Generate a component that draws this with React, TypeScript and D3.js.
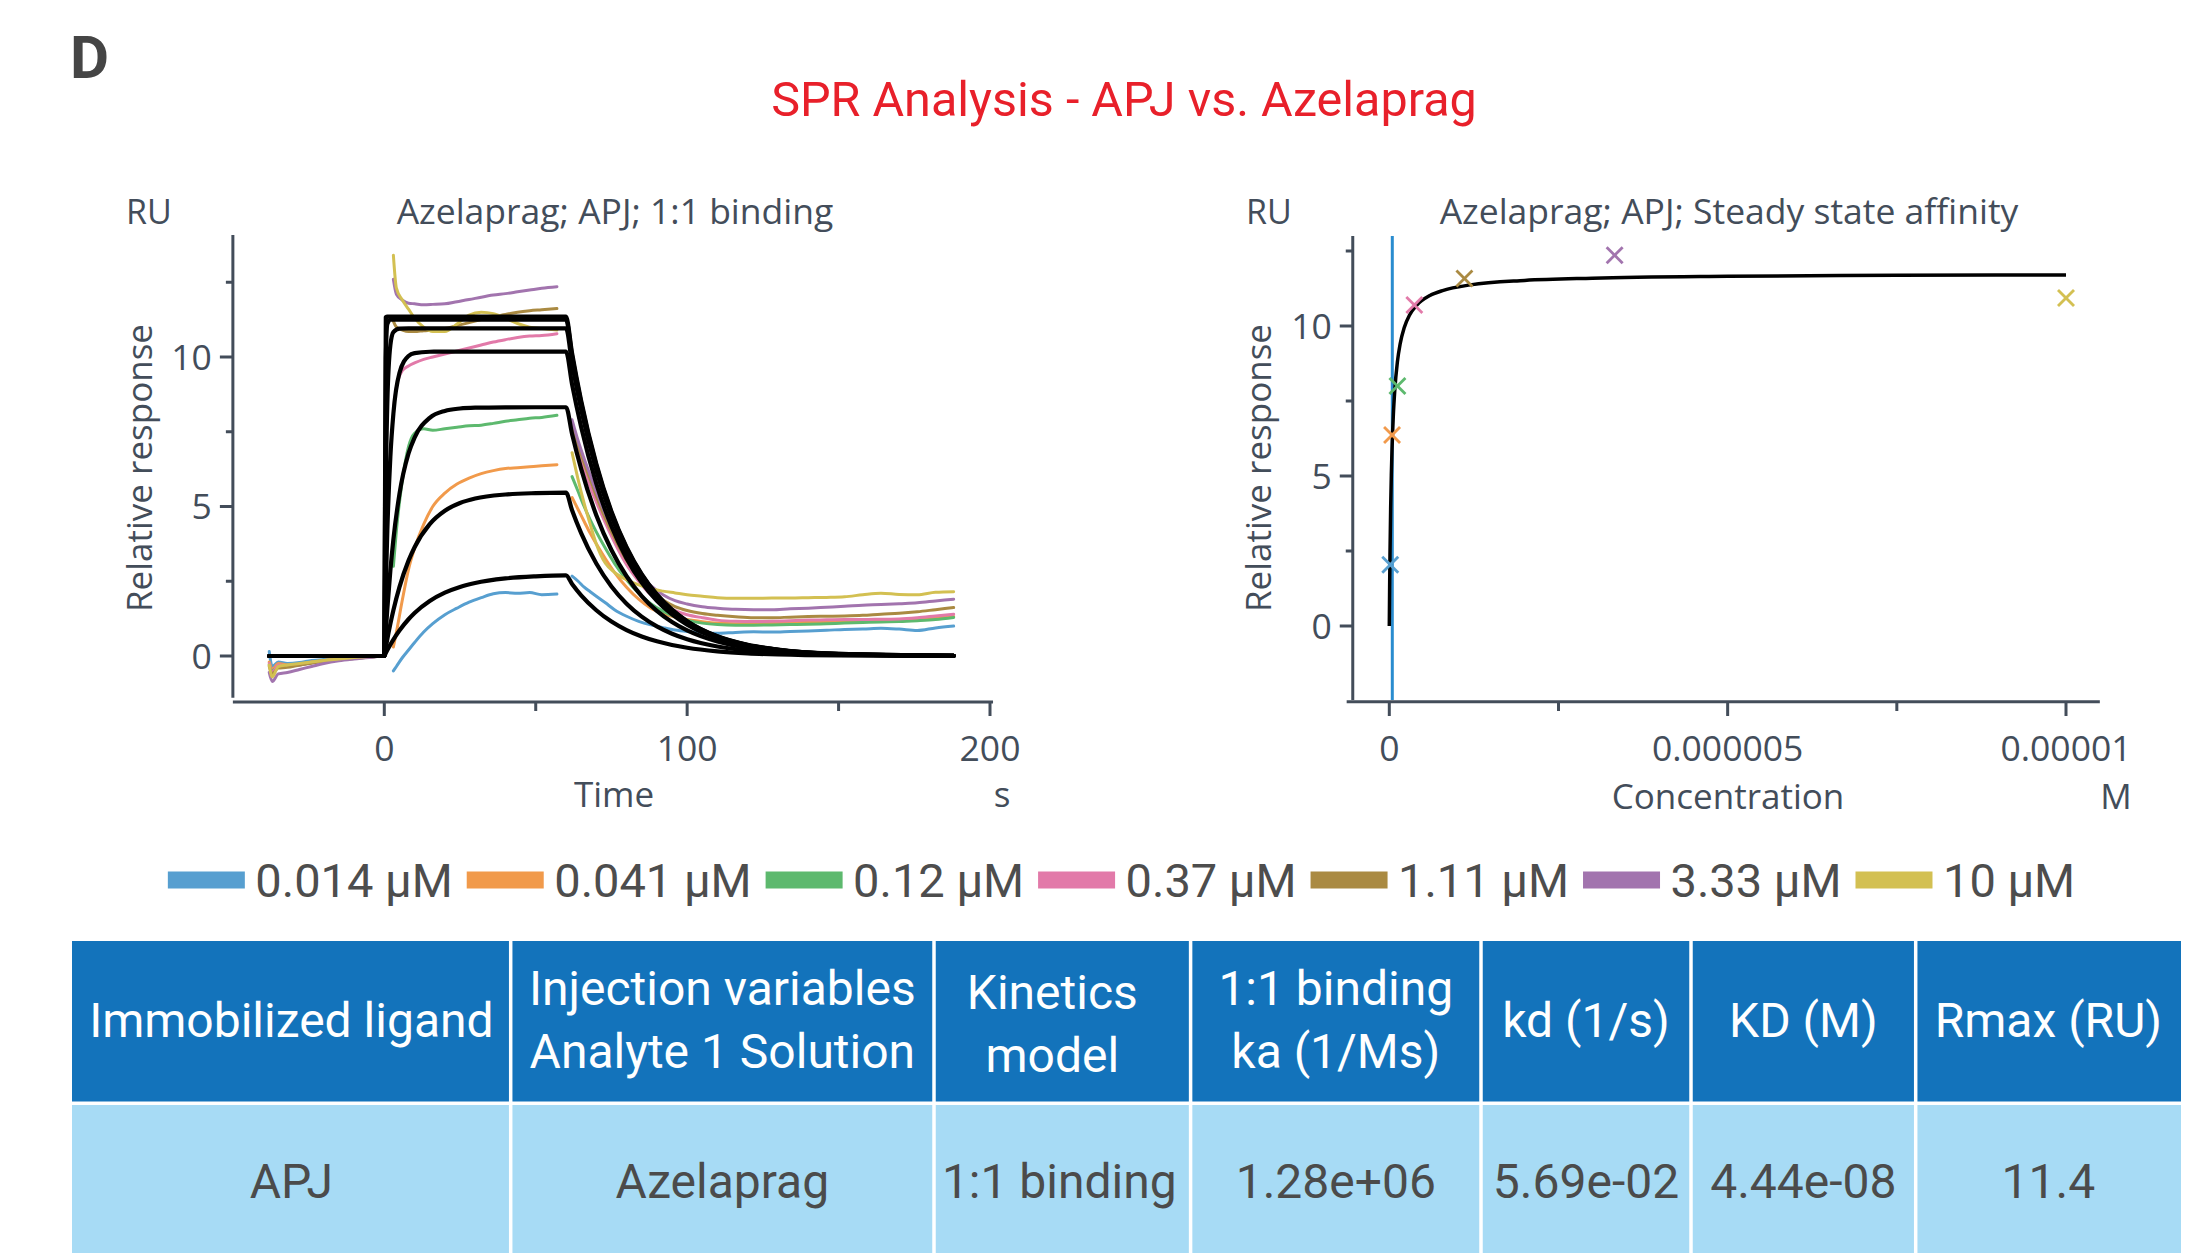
import React from 'react';
import * as d3 from 'd3';

// ---------------- data ----------------
const concLabels = ['0.014 µM', '0.041 µM', '0.12 µM', '0.37 µM', '1.11 µM', '3.33 µM', '10 µM'];
const concMolar = [1.4e-8, 4.1e-8, 1.2e-7, 3.7e-7, 1.11e-6, 3.33e-6, 1e-5];
const seriesColors = ['#579fd0', '#f19a4b', '#5db96e', '#e27aa9', '#aa8a42', '#a274ae', '#d3c052'];

// sensorgram (measured) — baseline phase
const baseT = [-38, -37, -35, -32, -28, -24, -20, -15, -10, -5, -1];
const base_0014 = [0.15, -0.35, -0.2, -0.25, -0.22, -0.15, -0.12, -0.1, -0.06, -0.03, 0];
const base_0041 = [-0.2, -0.45, -0.25, -0.3, -0.28, -0.2, -0.15, -0.1, -0.07, -0.03, 0];
const base_012 = [-0.3, -0.5, -0.35, -0.35, -0.3, -0.22, -0.16, -0.12, -0.08, -0.04, 0];
const base_037 = [-0.25, -0.55, -0.3, -0.32, -0.3, -0.22, -0.17, -0.12, -0.07, -0.03, 0];
const base_111 = [-0.35, -0.6, -0.4, -0.38, -0.3, -0.24, -0.18, -0.12, -0.08, -0.04, 0];
const base_333 = [-0.55, -0.85, -0.6, -0.55, -0.45, -0.35, -0.25, -0.16, -0.1, -0.05, 0];
const base_10 = [-0.3, -0.7, -0.35, -0.3, -0.25, -0.2, -0.15, -0.1, -0.05, -0.02, 0.02];

// association phase
const assocT = [3, 4, 6, 8, 10, 13, 16, 20, 24, 28, 32, 36, 40, 44, 48, 52, 57];
const assoc_0014 = [-0.5, -0.35, -0.05, 0.2, 0.45, 0.8, 1.08, 1.38, 1.6, 1.8, 1.95, 2.08, 2.12, 2.1, 2.12, 2.05, 2.07];
const assoc_0041 = [0.3, 0.8, 1.9, 2.9, 3.6, 4.4, 5.0, 5.45, 5.75, 5.95, 6.1, 6.2, 6.27, 6.3, 6.33, 6.36, 6.4];
const assoc_012 = [3.0, 4.2, 5.9, 7.0, 7.45, 7.6, 7.55, 7.6, 7.65, 7.7, 7.72, 7.78, 7.85, 7.9, 7.95, 7.98, 8.05];
const assoc_037 = [8.2, 9.0, 9.55, 9.7, 9.8, 9.92, 10.0, 10.1, 10.2, 10.3, 10.4, 10.5, 10.58, 10.65, 10.7, 10.72, 10.78];
const assoc_111 = [11.2, 11.0, 10.9, 10.85, 10.85, 10.88, 10.9, 10.95, 11.05, 11.15, 11.25, 11.35, 11.42, 11.5, 11.55, 11.58, 11.62];
const assoc_333 = [12.6, 12.1, 11.9, 11.8, 11.78, 11.75, 11.76, 11.78, 11.85, 11.92, 12.0, 12.07, 12.12, 12.18, 12.24, 12.3, 12.35];
const assoc_10 = [13.4, 12.3, 11.9, 11.6, 11.3, 11.0, 10.85, 10.85, 11.1, 11.4, 11.5, 11.45, 11.3, 11.12, 11.0, 10.95, 10.9];

// dissociation phase
const dissocT = [62, 64, 66, 68, 70, 73, 76, 80, 84, 88, 92, 96, 100, 105, 110, 116, 122, 128, 134, 140, 146, 152, 158, 164, 170, 176, 182, 188];
const dissoc_0014 = [2.67, 2.5, 2.3, 2.15, 2.0, 1.78, 1.55, 1.33, 1.16, 1.04, 0.95, 0.87, 0.82, 0.78, 0.76, 0.79, 0.81, 0.8, 0.82, 0.84, 0.86, 0.89, 0.9, 0.93, 0.9, 0.85, 0.94, 1.0];
const dissoc_0041 = [5.3, 4.9, 4.5, 4.1, 3.75, 3.25, 2.8, 2.3, 1.9, 1.6, 1.42, 1.3, 1.22, 1.15, 1.1, 1.08, 1.09, 1.1, 1.12, 1.13, 1.15, 1.16, 1.18, 1.2, 1.2, 1.22, 1.27, 1.32];
const dissoc_012 = [6.0, 5.5, 5.0, 4.55, 4.15, 3.6, 3.1, 2.55, 2.1, 1.75, 1.5, 1.32, 1.2, 1.1, 1.05, 1.03, 1.03, 1.04, 1.05, 1.06, 1.08, 1.1, 1.12, 1.14, 1.15, 1.18, 1.22, 1.29];
const dissoc_037 = [7.4, 6.8, 6.2, 5.65, 5.15, 4.45, 3.8, 3.05, 2.5, 2.05, 1.75, 1.52, 1.38, 1.28, 1.2, 1.16, 1.15, 1.16, 1.18, 1.2, 1.21, 1.22, 1.22, 1.23, 1.24, 1.28, 1.34, 1.4];
const dissoc_111 = [7.7, 7.05, 6.45, 5.9, 5.35, 4.6, 3.95, 3.2, 2.62, 2.18, 1.87, 1.65, 1.52, 1.42, 1.36, 1.31, 1.28, 1.28, 1.3, 1.32, 1.33, 1.34, 1.36, 1.4, 1.43, 1.48, 1.55, 1.62];
const dissoc_333 = [7.9, 7.2, 6.6, 6.05, 5.5, 4.75, 4.1, 3.35, 2.78, 2.35, 2.05, 1.85, 1.74, 1.65, 1.6, 1.56, 1.55, 1.55, 1.58, 1.6, 1.63, 1.66, 1.7, 1.72, 1.75, 1.78, 1.84, 1.9];
const dissoc_10 = [6.8, 5.9, 5.1, 4.4, 3.75, 3.1, 2.8, 2.55, 2.38, 2.25, 2.17, 2.11, 2.05, 2.0, 1.95, 1.93, 1.93, 1.94, 1.94, 1.95, 1.96, 1.98, 2.05, 2.1, 2.06, 2.05, 2.13, 2.15];

// 1:1 binding fitted curves (black)
const fitT = [-38, 0, 0.5, 1, 2, 3, 5, 8, 10, 15, 20, 25, 30, 40, 50, 60, 62, 65, 70, 75, 80, 85, 90, 95, 100, 110, 120, 130, 150, 188];
const fit_0014 = [0, 0, 0.10, 0.197, 0.379, 0.549, 0.852, 1.229, 1.439, 1.84, 2.119, 2.31, 2.441, 2.594, 2.665, 2.699, 2.41, 2.03, 1.53, 1.15, 0.865, 0.651, 0.49, 0.369, 0.277, 0.157, 0.089, 0.05, 0.016, 0.002];
const fit_0041 = [0, 0, 0.291, 0.567, 1.075, 1.531, 2.305, 3.19, 3.639, 4.41, 4.857, 5.115, 5.265, 5.401, 5.447, 5.462, 4.873, 4.108, 3.091, 2.326, 1.75, 1.316, 0.99, 0.745, 0.561, 0.317, 0.18, 0.102, 0.033, 0.004];
const fit_012 = [0, 0, 0.831, 1.58, 2.859, 3.895, 5.416, 6.776, 7.307, 7.966, 8.197, 8.277, 8.305, 8.318, 8.32, 8.32, 7.425, 6.26, 4.71, 3.544, 2.667, 2.006, 1.509, 1.136, 0.854, 0.483, 0.274, 0.155, 0.05, 0.006];
const fit_037 = [0, 0, 2.371, 4.191, 6.657, 8.107, 9.463, 10.034, 10.13, 10.176, 10.18, 10.18, 10.18, 10.18, 10.18, 10.18, 9.085, 7.659, 5.763, 4.337, 3.263, 2.454, 1.847, 1.39, 1.046, 0.591, 0.335, 0.189, 0.061, 0.007];
const fit_111 = [0, 0, 5.725, 8.459, 10.39, 10.83, 10.95, 10.96, 10.96, 10.96, 10.96, 10.96, 10.96, 10.96, 10.96, 10.96, 9.781, 8.246, 6.204, 4.669, 3.513, 2.642, 1.988, 1.496, 1.126, 0.637, 0.361, 0.204, 0.066, 0.008];
const fit_333 = [0, 0, 9.953, 11.1, 11.248, 11.25, 11.25, 11.25, 11.25, 11.25, 11.25, 11.25, 11.25, 11.25, 11.25, 11.25, 10.04, 8.465, 6.369, 4.793, 3.606, 2.712, 2.041, 1.536, 1.155, 0.654, 0.37, 0.209, 0.068, 0.008];
const fit_10 = [0, 0, 11.33, 11.35, 11.35, 11.35, 11.35, 11.35, 11.35, 11.35, 11.35, 11.35, 11.35, 11.35, 11.35, 11.35, 10.13, 8.54, 6.425, 4.835, 3.638, 2.736, 2.059, 1.549, 1.166, 0.659, 0.373, 0.211, 0.068, 0.008];

// steady state affinity
const ssResponse = [2.04, 6.37, 8.0, 10.7, 11.58, 12.36, 10.93];
const ssFitConc = [0, 5e-9, 1e-8, 2e-8, 3e-8, 4e-8, 6e-8, 8e-8, 1.2e-7, 1.6e-7, 2.2e-7, 3e-7, 4e-7, 6e-7, 8e-7, 1.2e-6, 2e-6, 3e-6, 5e-6, 7.5e-6, 1e-5];
const ssFitResp = [0, 1.306, 2.35, 3.917, 5.036, 5.875, 7.05, 7.833, 8.813, 9.4, 9.942, 10.368, 10.682, 11.016, 11.19, 11.371, 11.52, 11.595, 11.657, 11.688, 11.703];
const kdMarker = 4.44e-8;

// axes ticks
const yMajorTicks = [0, 5, 10];
const yMinorTicks = [2.5, 7.5, 12.5];
const xMajorTicksL = [0, 100, 200];
const xMinorTicksL = [50, 150];
const xMajorTicksR = [0, 5e-6, 1e-5];
const xMajorLabelsR = ['0', '0.000005', '0.00001'];
const xMinorTicksR = [2.5e-6, 7.5e-6];

// table
const tableHeaders = [
  ['Immobilized ligand'],
  ['Injection variables', 'Analyte 1 Solution'],
  ['Kinetics', 'model'],
  ['1:1 binding', 'ka (1/Ms)'],
  ['kd (1/s)'],
  ['KD (M)'],
  ['Rmax (RU)'],
];
const tableRow = ['APJ', 'Azelaprag', '1:1 binding', '1.28e+06', '5.69e-02', '4.44e-08', '11.4'];

// ---------------- helpers ----------------
const baseArrs = [base_0014, base_0041, base_012, base_037, base_111, base_333, base_10];
const assocArrs = [assoc_0014, assoc_0041, assoc_012, assoc_037, assoc_111, assoc_333, assoc_10];
const dissocArrs = [dissoc_0014, dissoc_0041, dissoc_012, dissoc_037, dissoc_111, dissoc_333, dissoc_10];
const fitArrs = [fit_0014, fit_0041, fit_012, fit_037, fit_111, fit_333, fit_10];

const zip = (xs: number[], ys: number[]): [number, number][] =>
  xs.slice(0, Math.min(xs.length, ys.length)).map((x, i) => [x, ys[i]]);

function measure(text: string, font: string): number {
  const c = document.createElement('canvas').getContext('2d');
  if (!c) return text.length * 20;
  c.font = font;
  return c.measureText(text).width;
}

const AX = '#434d5a';
const CHART_FONT = '"Open Sans", "DejaVu Sans", sans-serif';
const UI_FONT = 'Roboto, "Open Sans", sans-serif';

export default function App() {
  const W = 2212;
  const H = 1253;

  // left kinetics chart
  const xL = d3.scaleLinear().domain([0, 200]).range([384.3, 990]);
  const yL = d3.scaleLinear().domain([0, 10]).range([656, 357]);
  const lineL = d3
    .line<[number, number]>()
    .x((d) => xL(d[0]))
    .y((d) => yL(d[1]))
    .curve(d3.curveMonotoneX);

  // right steady-state chart
  const xR = d3.scaleLinear().domain([0, 1e-5]).range([1389.3, 2066]);
  const yR = d3.scaleLinear().domain([0, 10]).range([626, 326]);
  const lineR = d3
    .line<[number, number]>()
    .x((d) => xR(d[0]))
    .y((d) => yR(d[1]))
    .curve(d3.curveMonotoneX);

  const tickFont = 35.5;
  const labelFont = 35;
  const titleFont = 35.5;

  // legend layout
  const legendFont = `47px ${UI_FONT}`;
  const swW = 77;
  const swH = 17;
  const gapSwText = 10.5;
  const gapItem = 14;
  const widths = concLabels.map((l) => measure(l, legendFont));
  const totalW = widths.reduce((a, w) => a + swW + gapSwText + w + gapItem, 0) - gapItem;
  let lx = 1121.5 - totalW / 2;
  const legendItems = concLabels.map((l, i) => {
    const item = { x: lx, label: l, color: seriesColors[i], w: widths[i] };
    lx += swW + gapSwText + widths[i] + gapItem;
    return item;
  });

  // table layout
  const colEdges = [72, 510.7, 934, 1190.6, 1481, 1691, 1915.7, 2181];
  const headTop = 941;
  const headBot = 1101.5;
  const rowTop = 1105;
  const rowBot = 1275;
  const sep = 3.5;

  const renderAxesL = () => (
    <g>
      <line x1={xL(-50)} x2={xL(-50)} y1={yL(14.08)} y2={yL(-1.4)} stroke={AX} strokeWidth={3} />
      <line x1={xL(-50)} x2={xL(201)} y1={702} y2={702} stroke={AX} strokeWidth={3} />
      {yMajorTicks.map((v) => (
        <g key={'ylm' + v}>
          <line x1={xL(-50) - 13} x2={xL(-50)} y1={yL(v)} y2={yL(v)} stroke={AX} strokeWidth={3} />
          <text x={xL(-50) - 21} y={yL(v)} dy="0.36em" textAnchor="end" fontSize={tickFont} fill={AX} fontFamily={CHART_FONT}>
            {v}
          </text>
        </g>
      ))}
      {yMinorTicks.map((v) => (
        <line key={'ylmi' + v} x1={xL(-50) - 7} x2={xL(-50)} y1={yL(v)} y2={yL(v)} stroke={AX} strokeWidth={3} />
      ))}
      {xMajorTicksL.map((v) => (
        <g key={'xlm' + v}>
          <line x1={xL(v)} x2={xL(v)} y1={702} y2={716} stroke={AX} strokeWidth={3} />
          <text x={xL(v)} y={761} textAnchor="middle" fontSize={tickFont} fill={AX} fontFamily={CHART_FONT}>
            {v}
          </text>
        </g>
      ))}
      {xMinorTicksL.map((v) => (
        <line key={'xlmi' + v} x1={xL(v)} x2={xL(v)} y1={702} y2={711} stroke={AX} strokeWidth={3} />
      ))}
      <text x={126} y={224} fontSize={34} fill={AX} fontFamily={CHART_FONT}>RU</text>
      <text x={615} y={224} textAnchor="middle" fontSize={titleFont} fill={AX} fontFamily={CHART_FONT}>
        Azelaprag; APJ; 1:1 binding
      </text>
      <text transform="translate(152,468) rotate(-90)" textAnchor="middle" fontSize={labelFont} fill={AX} fontFamily={CHART_FONT}>
        Relative response
      </text>
      <text x={614} y={807} textAnchor="middle" fontSize={labelFont} fill={AX} fontFamily={CHART_FONT}>Time</text>
      <text x={1002} y={807} textAnchor="middle" fontSize={labelFont} fill={AX} fontFamily={CHART_FONT}>s</text>
    </g>
  );

  const renderAxesR = () => (
    <g>
      <line x1={xR(-5.4e-7)} x2={xR(-5.4e-7)} y1={yR(13.0)} y2={yR(-2.47)} stroke={AX} strokeWidth={3} />
      <line x1={xR(-6.3e-7)} x2={xR(1.05e-5)} y1={701.7} y2={701.7} stroke={AX} strokeWidth={3} />
      {yMajorTicks.map((v) => (
        <g key={'yrm' + v}>
          <line x1={xR(-5.4e-7) - 13} x2={xR(-5.4e-7)} y1={yR(v)} y2={yR(v)} stroke={AX} strokeWidth={3} />
          <text x={xR(-5.4e-7) - 21} y={yR(v)} dy="0.36em" textAnchor="end" fontSize={tickFont} fill={AX} fontFamily={CHART_FONT}>
            {v}
          </text>
        </g>
      ))}
      {yMinorTicks.map((v) => (
        <line key={'yrmi' + v} x1={xR(-5.4e-7) - 7} x2={xR(-5.4e-7)} y1={yR(v)} y2={yR(v)} stroke={AX} strokeWidth={3} />
      ))}
      {xMajorTicksR.map((v, i) => (
        <g key={'xrm' + i}>
          <line x1={xR(v)} x2={xR(v)} y1={701.7} y2={716} stroke={AX} strokeWidth={3} />
          <text x={xR(v)} y={761} textAnchor="middle" fontSize={tickFont} fill={AX} fontFamily={CHART_FONT}>
            {xMajorLabelsR[i]}
          </text>
        </g>
      ))}
      {xMinorTicksR.map((v, i) => (
        <line key={'xrmi' + i} x1={xR(v)} x2={xR(v)} y1={701.7} y2={711} stroke={AX} strokeWidth={3} />
      ))}
      <text x={1246} y={224} fontSize={34} fill={AX} fontFamily={CHART_FONT}>RU</text>
      <text x={1729} y={224} textAnchor="middle" fontSize={titleFont} fill={AX} fontFamily={CHART_FONT}>
        Azelaprag; APJ; Steady state affinity
      </text>
      <text transform="translate(1271,468) rotate(-90)" textAnchor="middle" fontSize={labelFont} fill={AX} fontFamily={CHART_FONT}>
        Relative response
      </text>
      <text x={1728} y={809} textAnchor="middle" fontSize={labelFont} fill={AX} fontFamily={CHART_FONT}>Concentration</text>
      <text x={2116} y={809} textAnchor="middle" fontSize={labelFont} fill={AX} fontFamily={CHART_FONT}>M</text>
    </g>
  );

  return (
    <svg
      width={W}
      height={H}
      viewBox={`0 0 ${W} ${H}`}
      style={{ position: 'absolute', left: 0, top: 0, background: '#ffffff', display: 'block' }}
    >
      <rect x={0} y={0} width={W} height={H} fill="#ffffff" />
      {/* panel letter & title */}
      <text x={70} y={78} fontSize={60} fontWeight={700} fill="#454545" fontFamily={UI_FONT}>D</text>
      <text x={1124} y={116} textAnchor="middle" fontSize={48.5} fill="#e8202a" fontFamily={UI_FONT}>
        SPR Analysis - APJ vs. Azelaprag
      </text>

      {/* left chart */}
      {renderAxesL()}
      <g fill="none" strokeLinejoin="round" strokeLinecap="round">
        {seriesColors.map((c, i) => (
          <g key={'sens' + i} stroke={c} strokeWidth={3}>
            <path d={lineL(zip(baseT, baseArrs[i])) || ''} />
            <path d={lineL(zip(assocT, assocArrs[i])) || ''} />
            <path d={lineL(zip(dissocT, dissocArrs[i])) || ''} />
          </g>
        ))}
        {fitArrs.map((f, i) => (
          <path key={'fit' + i} d={lineL(zip(fitT, f)) || ''} stroke="#000000" strokeWidth={4.2} />
        ))}
      </g>

      {/* right chart */}
      {renderAxesR()}
      <line x1={xR(kdMarker)} x2={xR(kdMarker)} y1={yR(13.0)} y2={yR(-2.47)} stroke="#2a8ccf" strokeWidth={3} />
      <path d={lineR(zip(ssFitConc, ssFitResp)) || ''} fill="none" stroke="#000000" strokeWidth={3.5} />
      {concMolar.map((c, i) => {
        const cx = xR(c);
        const cy = yR(ssResponse[i]);
        const s = 8;
        return (
          <g key={'x' + i} stroke={seriesColors[i]} strokeWidth={2.8}>
            <line x1={cx - s} y1={cy - s} x2={cx + s} y2={cy + s} />
            <line x1={cx - s} y1={cy + s} x2={cx + s} y2={cy - s} />
          </g>
        );
      })}

      {/* legend */}
      {legendItems.map((it, i) => (
        <g key={'lg' + i}>
          <rect x={it.x} y={880 - swH / 2} width={swW} height={swH} fill={it.color} />
          <text x={it.x + swW + gapSwText} y={897} fontSize={47} fill="#4d4d4d" fontFamily={UI_FONT}>
            {it.label}
          </text>
        </g>
      ))}

      {/* table */}
      {tableHeaders.map((lines, i) => {
        const x0 = colEdges[i] + (i === 0 ? 0 : sep / 2);
        const x1 = colEdges[i + 1] - (i === tableHeaders.length - 1 ? 0 : sep / 2);
        const cx = (colEdges[i] + colEdges[i + 1]) / 2;
        const isKin = i === 2;
        const baselines = lines.length === 1 ? [1037] : isKin ? [1009, 1072] : [1005, 1068];
        return (
          <g key={'th' + i}>
            <rect x={x0} y={headTop} width={x1 - x0} height={headBot - headTop} fill="#1373bb" />
            <rect x={x0} y={rowTop} width={x1 - x0} height={rowBot - rowTop} fill="#a7dbf5" />
            {lines.map((t, j) => (
              <text key={j} x={isKin ? cx - 10 : cx} y={baselines[j]} textAnchor="middle" fontSize={48} fill="#ffffff" fontFamily={UI_FONT}>
                {t}
              </text>
            ))}
            <text x={isKin ? cx - 3 : cx} y={1198} textAnchor="middle" fontSize={48} fill="#4b4b4b" fontFamily={UI_FONT}>
              {tableRow[i]}
            </text>
          </g>
        );
      })}
    </svg>
  );
}
